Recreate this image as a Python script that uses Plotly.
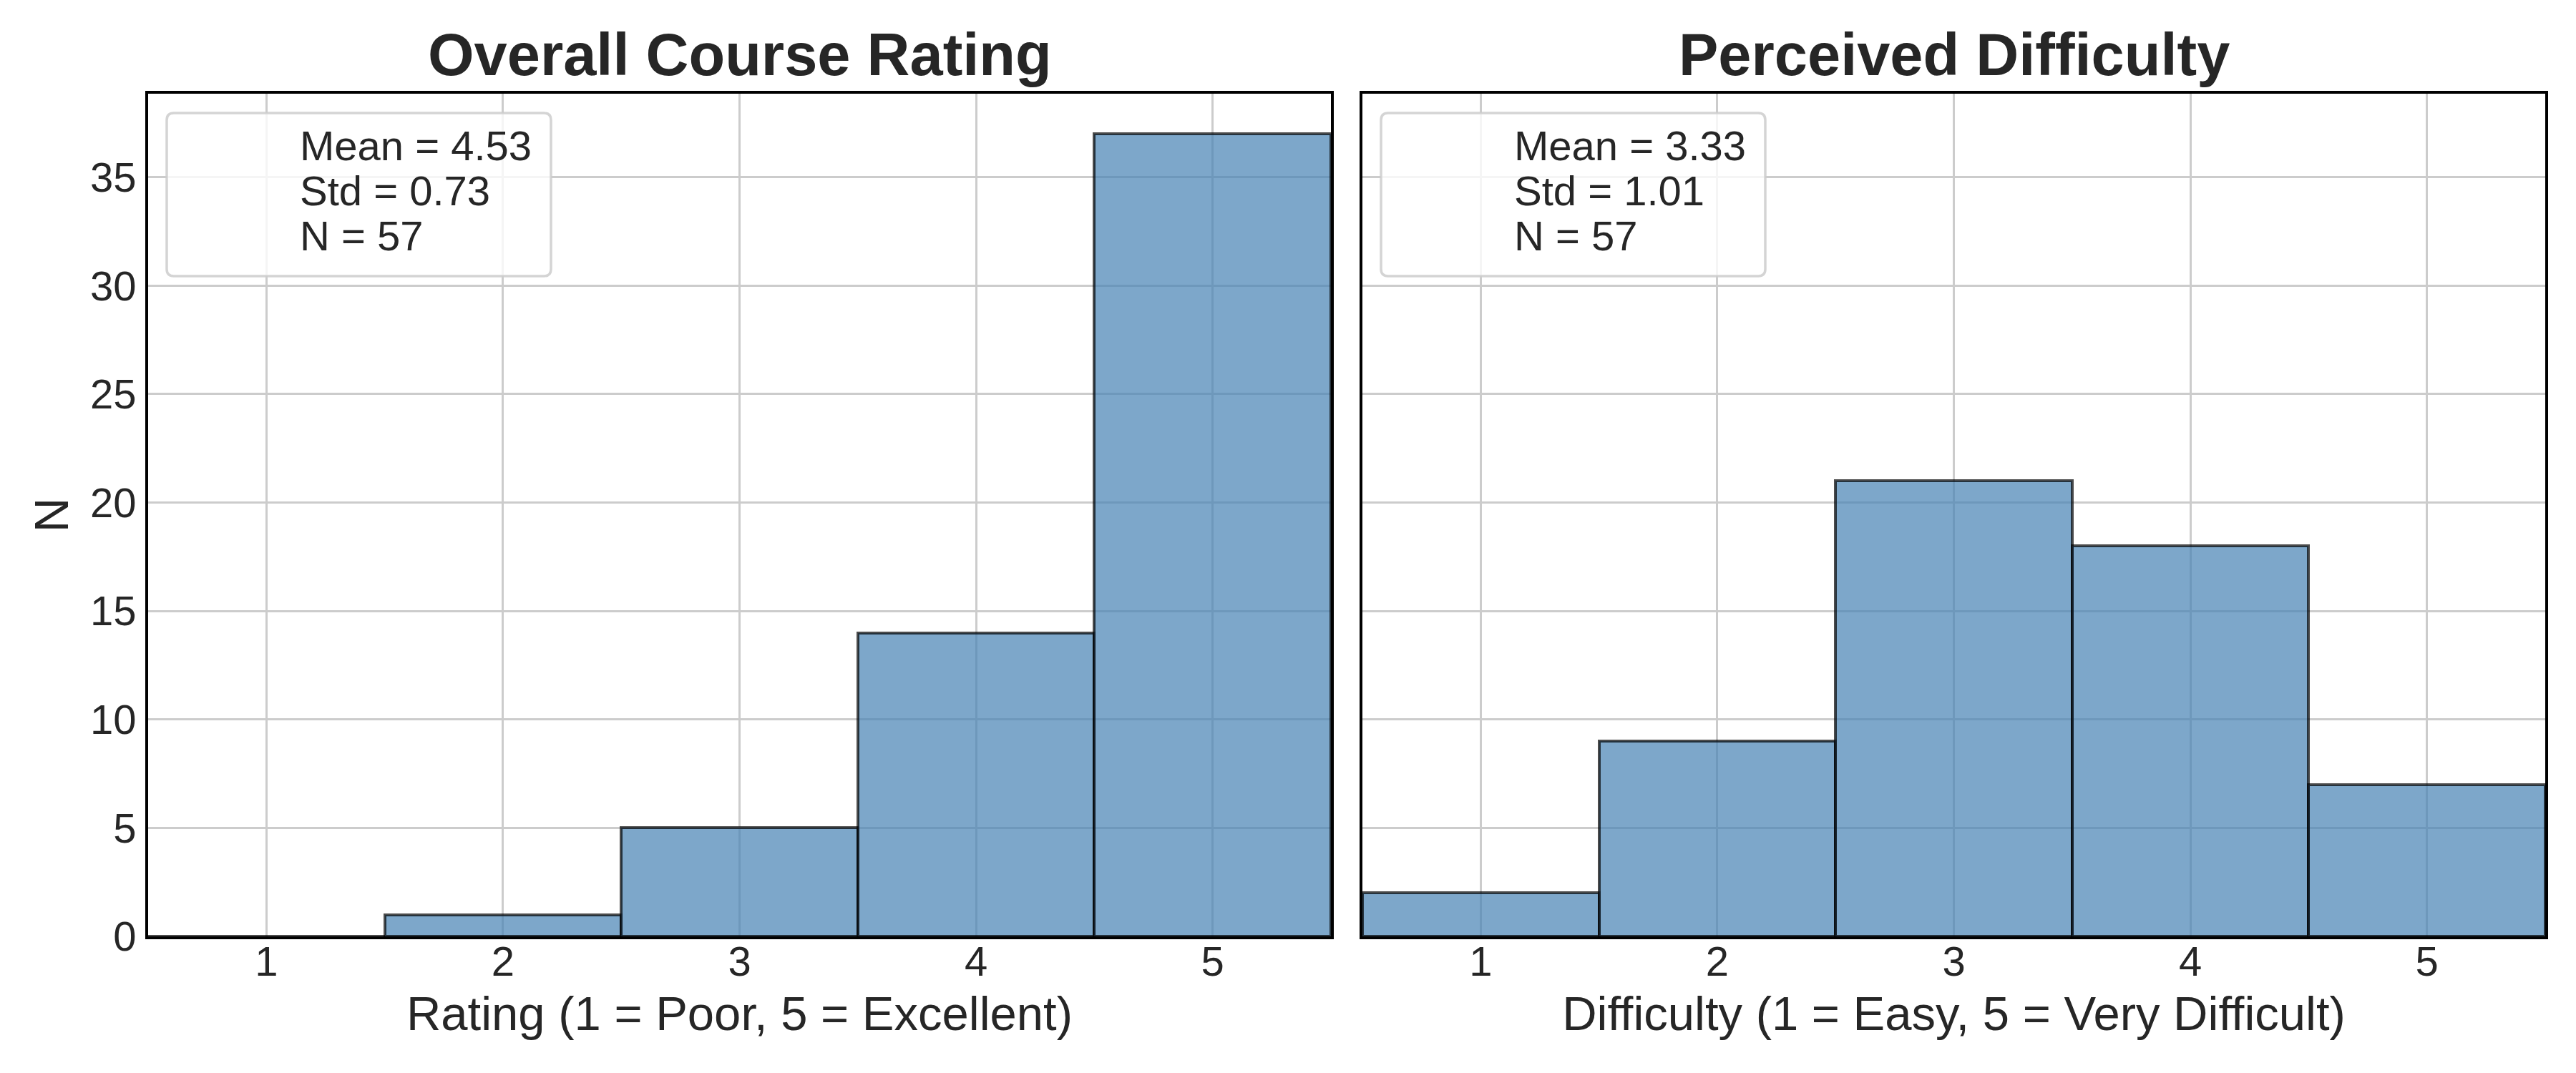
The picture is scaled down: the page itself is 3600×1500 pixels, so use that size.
import plotly.graph_objects as go

# ---------------- data ----------------
categories = [1, 2, 3, 4, 5]
rating_counts = [0, 1, 5, 14, 37]
difficulty_counts = [2, 9, 21, 18, 7]
panel_titles = ["Overall Course Rating", "Perceived Difficulty"]
x_titles = ["Rating (1 = Poor, 5 = Excellent)", "Difficulty (1 = Easy, 5 = Very Difficult)"]
y_title = "N"
stat_lines = [
    ["Mean = 4.53", "Std = 0.73", "N = 57"],
    ["Mean = 3.33", "Std = 1.01", "N = 57"],
]
y_ticks = [0, 5, 10, 15, 20, 25, 30, 35]

# ---------------- style ----------------
# page has an 8px body margin, so the figure is 8px smaller than the window
W, H = 3592, 1492
ML, MR, MT, MB = 199, 43, 123, 191
PW = W - ML - MR
PH = H - MT - MB
GAP = 44
AXW = (PW - GAP) / 2
FONT = "Liberation Sans, Arial, sans-serif"
TXT = "#262626"
BAR_FILL = "rgba(70,130,180,0.7)"
BAR_EDGE = "rgba(0,0,0,0.7)"
GRID = "#cccccc"

fig = go.Figure()
series = [rating_counts, difficulty_counts]
for i, vals in enumerate(series):
    sfx = "" if i == 0 else "2"
    fig.add_trace(go.Bar(
        x=categories, y=vals, width=1.0,
        marker=dict(color=BAR_FILL, line=dict(color=BAR_EDGE, width=4)),
        xaxis="x" + sfx, yaxis="y" + sfx, showlegend=False,
    ))

dom1 = [0, AXW / PW]
dom2 = [(AXW + GAP) / PW, 1]

axis_common = dict(
    showline=True, linecolor="black", linewidth=4, mirror=True,
    showgrid=True, gridcolor=GRID, gridwidth=3, zeroline=False,
    ticks="",
    tickfont=dict(family=FONT, size=58, color=TXT),
)

for i in range(2):
    sfx = "" if i == 0 else "2"
    fig.update_layout(**{
        "xaxis" + sfx: dict(
            axis_common, domain=dom1 if i == 0 else dom2, anchor="y" + sfx,
            range=[0.5, 5.5], tickmode="array", tickvals=categories,
            ticklabelstandoff=-19,
            title=dict(text=x_titles[i], font=dict(family=FONT, size=67, color=TXT), standoff=20),
        ),
        "yaxis" + sfx: dict(
            axis_common, domain=[0, 1], anchor="x" + sfx,
            range=[0, 38.85], tickmode="array", tickvals=y_ticks,
            showticklabels=(i == 0), ticklabelstandoff=1,
            title=dict(text=y_title if i == 0 else "", font=dict(family=FONT, size=67, color=TXT), standoff=9),
        ),
    })


def rounded_rect(x0, y0, x1, y1, rx, ry):
    return (f"M {x0+rx},{y0} L {x1-rx},{y0} Q {x1},{y0} {x1},{y0+ry} "
            f"L {x1},{y1-ry} Q {x1},{y1} {x1-rx},{y1} L {x0+rx},{y1} "
            f"Q {x0},{y1} {x0},{y1-ry} L {x0},{y0+ry} Q {x0},{y0} {x0+rx},{y0} Z")


shapes = []
annotations = []
for i in range(2):
    sfx = "" if i == 0 else "2"
    xr, yr = "x" + sfx + " domain", "y" + sfx + " domain"
    bx0, bx1 = 26 / AXW, 563 / AXW
    by1, by0 = 1 - 27 / PH, 1 - 255 / PH
    shapes.append(dict(
        type="path", xref=xr, yref=yr, layer="above",
        path=rounded_rect(bx0, by0, bx1, by1, 10 / AXW, 10 / PH),
        fillcolor="rgba(255,255,255,0.8)", line=dict(color="rgba(204,204,204,0.85)", width=3.5),
    ))
    for j, line in enumerate(stat_lines[i]):
        yc = 1 - (72 + 63 * j) / PH
        annotations.append(dict(
            text=line, xref=xr, yref=yr, x=210 / AXW, y=yc,
            xanchor="left", yanchor="middle", showarrow=False,
            font=dict(family=FONT, size=58, color=TXT),
        ))
    annotations.append(dict(
        text="<b>" + panel_titles[i] + "</b>", xref=xr, yref=yr, x=0.5, y=1 + 54 / PH,
        xanchor="center", yanchor="middle", showarrow=False,
        font=dict(family=FONT, size=83, color=TXT),
    ))

fig.update_layout(
    width=W, height=H,
    margin=dict(l=ML, r=MR, t=MT, b=MB),
    paper_bgcolor="white", plot_bgcolor="white",
    bargap=0, showlegend=False,
    shapes=shapes, annotations=annotations,
    font=dict(family=FONT, color=TXT),
)

fig.write_html("out.html")
